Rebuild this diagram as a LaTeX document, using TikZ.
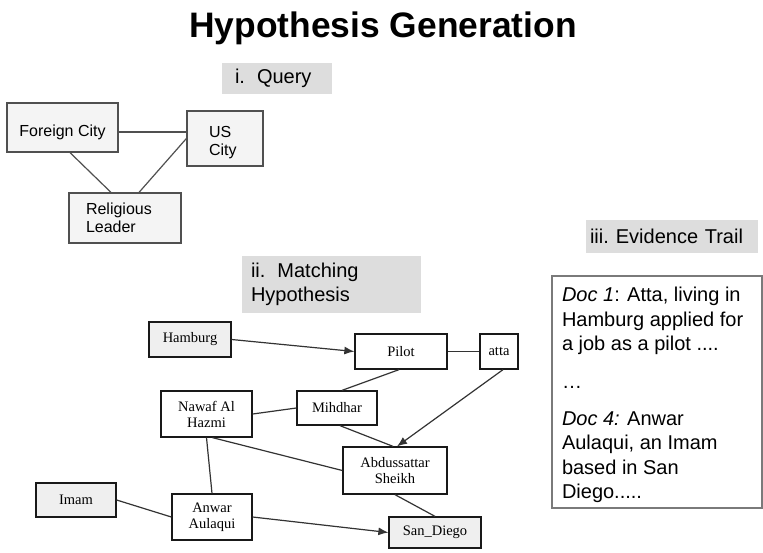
\documentclass[tikz,border=0pt]{standalone}
\usepackage{fontspec}
\setmainfont{Liberation Sans}
\newfontfamily\graphserif{Liberation Serif}
\usetikzlibrary{arrows.meta,calc}

\definecolor{qfill}{HTML}{F4F4F4}
\definecolor{qline}{HTML}{505050}
\definecolor{gfill}{HTML}{EFEFEF}
\definecolor{tagfill}{HTML}{DDDDDD}
\definecolor{linkgray}{HTML}{333333}
\definecolor{evline}{HTML}{7A7A7A}

\begin{document}
\begin{tikzpicture}[x=1pt,y=-1pt,
  qbox/.style={draw=qline, fill=qfill, line width=1.2pt, inner sep=0pt,
               align=left, font=\fontsize{16}{18}\selectfont},
  hbox/.style={draw=black!90, fill=white, line width=1.3pt, inner sep=0pt,
               align=center, font=\graphserif\fontsize{14.5}{16}\selectfont},
  hshade/.style={hbox, fill=gfill},
  tag/.style={fill=tagfill, inner sep=0pt, align=left,
              font=\fontsize{20}{23.5}\selectfont},
  qlink/.style={draw=qline, line width=1.2pt},
  hlink/.style={draw=linkgray, line width=1.2pt},
  harrow/.style={hlink, -{Latex[length=10pt,width=8pt]}},
]
% canvas
\fill[white] (0,0) rectangle (763,552);
\useasboundingbox (0,0) rectangle (763,552);

% title
\node[anchor=base, font=\bfseries\fontsize{35.4}{40}\selectfont] (title) at (383,37) {Hypothesis Generation};

% section tags
\node[tag, minimum width=110pt, minimum height=31pt, text width=84pt] (tagq) at (277,78.5) {i.\hspace{12pt}Query};
\node[tag, minimum width=179pt, minimum height=57pt, text width=161pt] (tagm) at (331.5,284.5) {ii.\hspace{12pt}Matching\\Hypothesis};
\node[tag, minimum width=172pt, minimum height=33pt, text width=164pt] (tage) at (672,236.5) {iii.\hspace{7pt}Evidence Trail};

% i. query graph (text sits a little below the box centre)
\node[qbox, minimum width=111pt, minimum height=49pt] (fc) at (62.5,127.5)
  {\raisebox{-5pt}[\height][\depth]{Foreign City}};
\node[qbox, minimum width=76pt, minimum height=55pt, text width=32pt] (us) at (225,138.5)
  {\raisebox{-4pt}[\height][\depth]{\begin{tabular}{@{}l@{}}US\\City\end{tabular}}};
\node[qbox, minimum width=112pt, minimum height=50pt, text width=78pt] (rl) at (125,218) {Religious\\Leader};

\draw[qlink] ($(fc.east)+(0,4.5)$) -- ($(us.west)+(0,-6.5)$);
\draw[qlink] ($(fc.south)+(7.5,0)$) -- ($(rl.north)+(-14,0)$);
\draw[qlink] (us.west) -- ($(rl.north)+(14,0)$);

% ii. matching hypothesis graph
\node[hshade, minimum width=82pt, minimum height=35pt] (hamburg) at (190,339.5) {Hamburg};
\node[hbox, minimum width=92pt, minimum height=35pt] (pilot) at (401,351.5) {Pilot};
\node[hbox, minimum width=38pt, minimum height=35pt] (atta) at (499,351.5) {atta};
\node[hbox, minimum width=91pt, minimum height=46pt] (nawaf) at (206.5,414) {Nawaf Al\\Hazmi};
\node[hbox, minimum width=80pt, minimum height=34pt] (mihdhar) at (337,408) {Mihdhar};
\node[hbox, minimum width=104pt, minimum height=47pt] (abd) at (395,470.5) {Abdussattar\\Sheikh};
\node[hshade, minimum width=80pt, minimum height=34pt] (imam) at (76,500) {Imam};
\node[hbox, minimum width=80pt, minimum height=46pt] (anwar) at (212,517) {Anwar\\Aulaqui};
\node[hshade, minimum width=92pt, minimum height=31pt] (sandiego) at (435,532.5) {San\_Diego};

\draw[harrow] (hamburg.east) -- (pilot.west);
\draw[hlink] (pilot.east) -- (atta.west);
\draw[hlink] ($(pilot.south)+(-2,0)$) -- ($(mihdhar.north)+(5,0)$);
\draw[harrow] ($(atta.south)+(4,0)$) -- ($(abd.north)+(2,0)$);
\draw[hlink] (nawaf.east) -- (mihdhar.west);
\draw[hlink] ($(mihdhar.south)+(3,0)$) -- ($(abd.north)+(-2,0)$);
\draw[hlink] ($(nawaf.south)+(6,0)$) -- (abd.west);
\draw[hlink] (nawaf.south) -- (anwar.north);
\draw[hlink] (imam.east) -- (anwar.west);
\draw[harrow] (anwar.east) -- (sandiego.west);
\draw[hlink] (abd.south) -- (sandiego.north);

% iii. evidence trail
\node[draw=evline, fill=white, line width=1.5pt, inner sep=0pt, minimum width=210pt,
      minimum height=232pt, font=\fontsize{20}{24.2}\selectfont] (evidence) at (657,392)
  {\raisebox{-3pt}[\height][\depth]{\parbox{190pt}{\raggedright
   \textit{Doc 1}: Atta, living in\\
   Hamburg applied for\\
   a job as a pilot ....\\[13.5pt]
   \ldots\\[13.5pt]
   \textit{Doc 4:} Anwar\\
   Aulaqui, an Imam\\
   based in San\\
   Diego.....}}};
\end{tikzpicture}
\end{document}
